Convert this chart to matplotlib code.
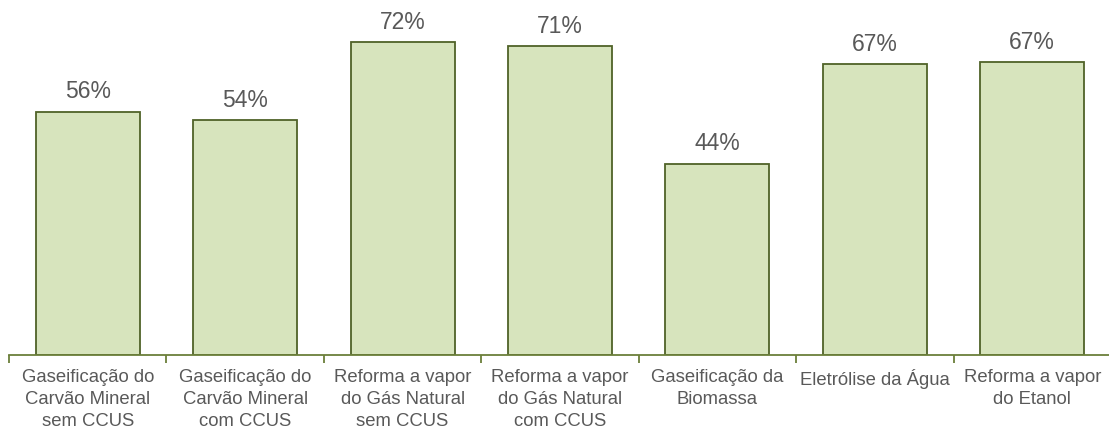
import matplotlib.pyplot as plt
import numpy as np

# categorias e valores (%)
categorias = ['Gaseificação do\nCarvão Mineral\nsem CCUS',
              'Gaseificação do\nCarvão Mineral\ncom CCUS',
              'Reforma a vapor\ndo Gás Natural\nsem CCUS',
              'Reforma a vapor\ndo Gás Natural\ncom CCUS',
              'Gaseificação da\nBiomassa',
              'Eletrólise da Água',
              'Reforma a vapor\ndo Etanol']
valores = [56, 54, 72, 71, 44, 66.9, 67.4]

plt.rcParams['font.family'] = ['Liberation Sans', 'DejaVu Sans']

fig = plt.figure(figsize=(11.09, 4.30), dpi=100)
ax = fig.add_axes([9 / 1109, 75 / 430, 1102 / 1109, 355 / 430])

x = np.arange(len(categorias))
bars = ax.bar(x, valores, width=0.66, color='#d7e4bd', edgecolor='#4f6228', linewidth=1.3)

for b, v in zip(bars, valores):
    ax.annotate(f'{round(v):.0f}%', (b.get_x() + b.get_width() / 2, v),
                xytext=(0, 6), textcoords='offset points',
                ha='center', va='bottom', fontsize=16.5, color='#595959')

ax.set_xlim(-0.5, 6.5)
ax.set_ylim(0, 81.7)

for s in ['top', 'right', 'left']:
    ax.spines[s].set_visible(False)
ax.spines['bottom'].set_color('#6b7f3a')
ax.spines['bottom'].set_linewidth(1.3)
ax.set_yticks([])

# ticks entre as categorias
ax.set_xticks(np.arange(-0.5, 7, 1))
ax.set_xticklabels([])
ax.tick_params(axis='x', length=6, width=1.3, color='#6b7f3a', direction='out')
ax.set_xticks(x, minor=True)
ax.set_xticklabels(categorias, minor=True, fontsize=13.3, color='#595959', linespacing=1.4)
ax.tick_params(axis='x', which='minor', length=0, pad=10)

fig.savefig('out.png', dpi=100)
